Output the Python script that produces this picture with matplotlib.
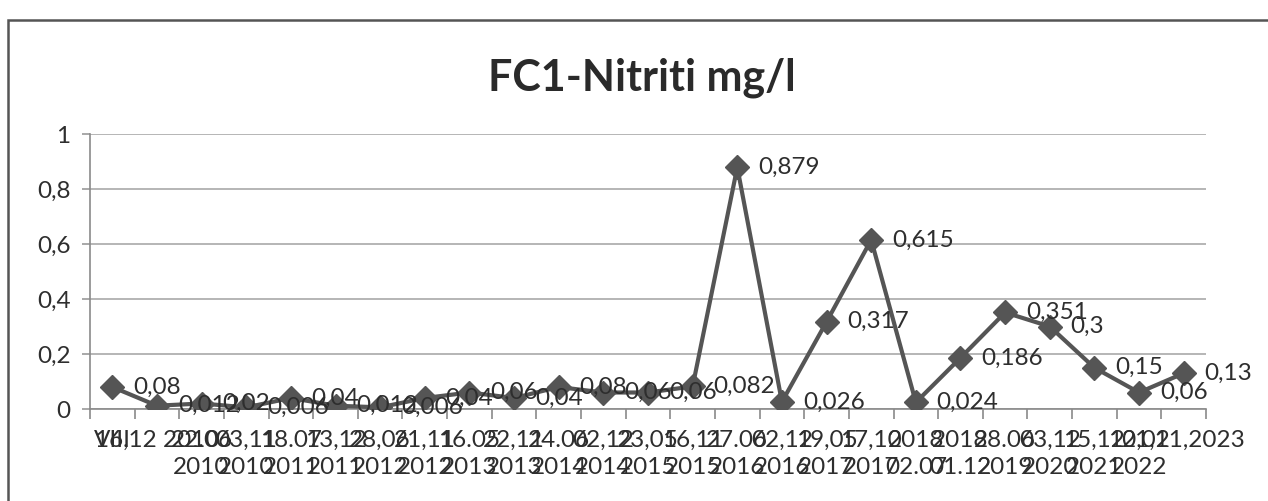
import matplotlib
matplotlib.use("Agg")
import matplotlib.pyplot as plt
from matplotlib.patches import Rectangle
import numpy as np

title = "FC1-Nitriti mg/l"
categories = ["VIII", "16,12 2010", "22.06\n2010", "03,11\n2010", "18.07\n2011",
              "13,12\n2011", "28,06\n2012", "21,11\n2012", "16.05\n2013", "22,11\n2013",
              "24.06\n2014", "02,12\n2014", "23,05\n2015", "16,11\n2015", "27.06\n2016",
              "02,12\n2016", "19,05\n2017", "17,10\n2017", "2018\n02.07", "2018\n01.12",
              "28.06\n2019", "03,12\n2020", "15,12\n2021", "10,02\n2022", "21,11,2023"]
values = [0.08, 0.012, 0.02, 0.006, 0.04, 0.012, 0.006, 0.04, 0.06, 0.04,
          0.08, 0.06, 0.06, 0.082, 0.879, 0.026, 0.317, 0.615, 0.024, 0.186,
          0.351, 0.3, 0.15, 0.06, 0.13]
yticks = [0, 0.2, 0.4, 0.6, 0.8, 1]

plt.rcParams['font.family'] = ['Lato', 'DejaVu Sans']

W, H = 1268, 501
fig = plt.figure(figsize=(W / 100, H / 100), dpi=100)
fig.patch.set_facecolor('white')

# chart border
fig.patches.append(Rectangle((8 / W, -0.05), 1.2, 1 - 20 / H + 0.05, transform=fig.transFigure,
                             fill=False, edgecolor='#555555', linewidth=1.8))

ax = fig.add_axes([90 / W, 1 - 409 / H, (1206 - 90) / W, (409 - 134) / H])
ax.set_facecolor('none')

line_col = '#555555'
text_col = '#2e2e2e'
fs = 17.5
x = np.arange(len(values))
ax.plot(x, values, color=line_col, linewidth=3.0, marker='D', markersize=12,
        markerfacecolor=line_col, markeredgecolor=line_col, zorder=3)

for xi, v in zip(x, values):
    ax.annotate(f"{v:g}".replace('.', ','), (xi, v), xytext=(15, 0), textcoords='offset points',
                ha='left', va='center', fontsize=fs, color=text_col, zorder=4)

ax.set_xlim(-0.5, len(values) - 0.5)
ax.set_ylim(0, 1)
ax.set_yticks(yticks)
ax.set_yticklabels([f"{t:g}".replace('.', ',') for t in yticks])
ax.yaxis.grid(True, color='#b5b5b5', linewidth=1.4)
ax.set_axisbelow(True)

ax.set_xticks(x)
ax.set_xticklabels(categories, linespacing=1.38)
ax.set_xticks(np.arange(len(values) + 1) - 0.5, minor=True)
ax.tick_params(axis='x', which='major', length=0, pad=15, labelsize=fs, labelcolor=text_col)
ax.tick_params(axis='x', which='minor', length=7, width=1.2, color='#8a8a8a', direction='out')
ax.tick_params(axis='y', length=6, width=1.2, color='#9a9a9a', pad=8, labelsize=fs,
               labelcolor=text_col)

for s in ['top', 'right']:
    ax.spines[s].set_visible(False)
for s in ['left', 'bottom']:
    ax.spines[s].set_color('#8a8a8a')
    ax.spines[s].set_linewidth(1.2)

fig.text(642 / W, 1 - 90 / H, title, ha='center', va='baseline', fontsize=31,
         fontweight='bold', color='#2a2a2a')

fig.savefig('out.png', dpi=100)
